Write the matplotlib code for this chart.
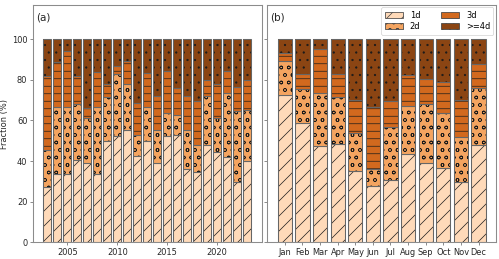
import numpy as np
import matplotlib
matplotlib.use("Agg")
import matplotlib.pyplot as plt
from matplotlib.patches import Patch

# cumulative tops (percent)
years = list(range(2003, 2024))
top_1d_y = [27.0, 33.5, 33.5, 40.7, 39.0, 33.5, 49.8, 52.2, 55.5, 42.3, 50.0,
            39.0, 52.2, 53.0, 36.0, 34.6, 48.1, 44.5, 42.0, 29.8, 39.9]
top_2d_y = [45.5, 66.6, 66.6, 68.2, 61.3, 66.6, 71.5, 82.7, 77.8, 52.6, 66.6,
            55.5, 63.6, 62.6, 55.5, 48.1, 72.0, 61.3, 73.6, 64.6, 65.0]
top_3d_y = [81.7, 88.8, 94.2, 81.9, 66.4, 84.0, 77.8, 86.8, 89.3, 68.7, 83.5,
            72.1, 84.3, 76.1, 72.0, 69.5, 80.2, 77.8, 84.2, 76.5, 80.0]

months = ["Jan", "Feb", "Mar", "Apr", "May", "Jun",
          "Jul", "Aug", "Sep", "Oct", "Nov", "Dec"]
top_1d_m = [72.5, 58.8, 47.3, 48.4, 35.3, 27.5, 30.5, 43.5, 39.0, 36.6, 29.7, 48.1]
top_2d_m = [89.3, 75.6, 73.6, 71.5, 53.9, 36.1, 56.7, 67.1, 67.9, 63.8, 51.7, 76.1]
top_3d_m = [93.4, 82.7, 95.1, 82.7, 70.3, 66.6, 69.5, 82.4, 80.6, 78.9, 70.3, 88.0]

labels = ["1d", "2d", "3d", ">=4d"]
colors = ["peachpuff", "sandybrown", "chocolate", "saddlebrown"]
hatches = ["/", "o", "-", "."]

plt.rcParams["hatch.linewidth"] = 1.1


def stacked(ax, x, t1, t2, t3):
    t1, t2, t3 = np.array(t1), np.array(t2), np.array(t3)
    parts = [t1, t2 - t1, t3 - t2, 100 - t3]
    bottom = np.zeros(len(x))
    for p, c, h in zip(parts, colors, hatches):
        # fill + dark hatch, then a grey outline on top
        ax.bar(x, p, bottom=bottom, width=0.8, color=c, hatch=h,
               edgecolor="0.1", linewidth=0)
        ax.bar(x, p, bottom=bottom, width=0.8, fill=False,
               edgecolor="0.4", linewidth=1.7)
        bottom = bottom + p


# big figure at low dpi so the hatches come out fine
fig, (ax1, ax2) = plt.subplots(1, 2, figsize=(11.11, 5.756), dpi=45, sharey=True)
fig.subplots_adjust(left=0.066, right=0.992, top=0.981, bottom=0.065, wspace=0.026)

stacked(ax1, years, top_1d_y, top_2d_y, top_3d_y)
stacked(ax2, np.arange(len(months)), top_1d_m, top_2d_m, top_3d_m)

ax1.set_ylim(0, 117)
ax1.set_xticks([2005, 2010, 2015, 2020])
ax2.set_xticks(np.arange(len(months)))
ax2.set_xticklabels(months)
ax1.set_yticks([0, 20, 40, 60, 80, 100])
ax1.set_ylabel("Fraction (%)", fontsize=13.3, color="0.15")
ax1.yaxis.set_label_coords(-0.105, 0.5)

for ax in (ax1, ax2):
    ax.tick_params(labelsize=13.3, length=5.5, width=1.3, colors="0.45",
                   labelcolor="0.15", pad=3.5)
    for s in ax.spines.values():
        s.set_color("0.55")
        s.set_linewidth(1.7)

ax1.text(0.013, 0.945, "(a)", transform=ax1.transAxes, fontsize=16.5,
         va="center", ha="left", color="0.15")
ax2.text(0.013, 0.945, "(b)", transform=ax2.transAxes, fontsize=16.5,
         va="center", ha="left", color="0.15")

handles = [Patch(facecolor=c, hatch=h, edgecolor="0.25", linewidth=1.2, label=l)
           for c, h, l in zip(colors, hatches, labels)]
ax2.legend(handles=handles, ncol=2, loc="upper right", fontsize=13.3,
           frameon=True, borderaxespad=0.3, columnspacing=2.5,
           handlelength=2.2, labelspacing=0.3, edgecolor="0.8", framealpha=1)

plt.savefig("out.png", dpi=45)
plt.close()
